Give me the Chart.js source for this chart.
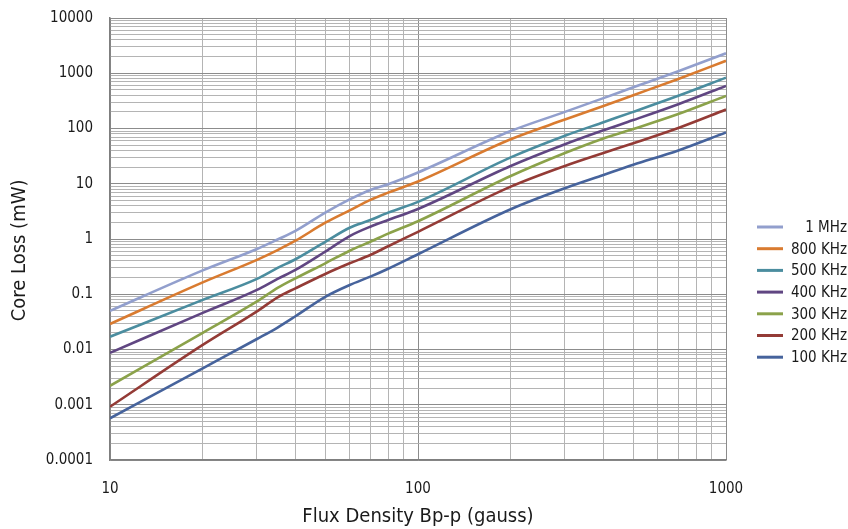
<!DOCTYPE html>
<html>
<head>
<meta charset="utf-8">
<script src="https://cdn.jsdelivr.net/npm/chart.js@4.4.0/dist/chart.umd.min.js"></script>
<style>
  html, body { margin: 0; padding: 0; background: #ffffff; }
  #wrap { width: 848px; height: 529px; }
</style>
</head>
<body>
<div id="wrap"><canvas id="coreLossChart" width="848" height="529"></canvas></div>
<script>
// flux density (gauss) where the curves were read
const fluxDensity = [10, 20, 30, 35, 40, 50, 60, 70, 80, 100, 200, 300, 400, 500, 700, 1000];

// core loss (mW) per frequency
const loss1MHz   = [0.05, 0.27, 0.66, 0.98, 1.4, 3.0, 5.2, 7.7, 9.8, 16, 90, 200, 355, 557, 1090, 2300];
const loss800KHz = [0.029, 0.164, 0.42, 0.63, 0.93, 1.97, 3.3, 5.1, 6.9, 11, 64, 145, 255, 400, 790, 1680];
const loss500KHz = [0.017, 0.079, 0.19, 0.30, 0.43, 0.89, 1.6, 2.2, 3.0, 4.7, 30, 74, 130, 200, 390, 830];
const loss400KHz = [0.0087, 0.046, 0.12, 0.19, 0.275, 0.59, 1.13, 1.67, 2.2, 3.5, 21, 52, 93, 142, 275, 590];
const loss300KHz = [0.0022, 0.020, 0.074, 0.13, 0.194, 0.363, 0.614, 0.89, 1.25, 2.1, 13.8, 36, 66, 98, 183, 390];
const loss200KHz = [0.00092, 0.0121, 0.049, 0.088, 0.128, 0.233, 0.363, 0.513, 0.74, 1.35, 8.85, 21, 36, 54, 102, 220];
const loss100KHz = [0.00057, 0.00456, 0.0155, 0.025, 0.040, 0.090, 0.147, 0.208, 0.29, 0.53, 3.45, 8.3, 14.4, 22, 40, 85];

const seriesLabels = ["1 MHz", "800 KHz", "500 KHz", "400 KHz", "300 KHz", "200 KHz", "100 KHz"];
const seriesValues = [loss1MHz, loss800KHz, loss500KHz, loss400KHz, loss300KHz, loss200KHz, loss100KHz];
const seriesColors = ["#929fcd", "#d97b30", "#4b8d9f", "#604682", "#8ba24a", "#943b36", "#46639c"];

const xTickLabels = ["10", "100", "1000"];
const yTickLabels = ["0.0001", "0.001", "0.01", "0.1", "1", "10", "100", "1000", "10000"];

const FONT = "'DejaVu Sans Condensed', 'Liberation Sans', sans-serif";

// 1..9 x 10^n ticks between two label values
const buildLogTicks = (labels) => {
    const lo = Math.round(Math.log10(parseFloat(labels[0])));
    const hi = Math.round(Math.log10(parseFloat(labels[labels.length - 1])));
    let ticks = [];
    for (let e = lo; e <= hi; e++) {
        const lim = (e === hi) ? 1 : 9;
        for (let m = 1; m <= lim; m++) {
            ticks.push({ value: parseFloat((m * Math.pow(10, e)).toPrecision(6)) });
        }
    }
    return ticks;
};

const tickText = (labels) => (value) => {
    const found = labels.find(l => Math.abs(parseFloat(l) - value) < value * 1e-6);
    return found === undefined ? "" : found;
};

const isMajor = (value) => {
    const lg = Math.log10(value);
    return Math.abs(lg - Math.round(lg)) < 1e-6;
};

const datasets = seriesLabels.map((label, i) => ({
    label: label,
    data: fluxDensity.map((x, j) => ({ x: x, y: seriesValues[i][j] })),
    borderColor: seriesColors[i],
    backgroundColor: seriesColors[i],
    borderWidth: 2.6,
    pointRadius: 0,
    cubicInterpolationMode: "monotone",
    fill: false
}));

// legend drawn on the right, text right aligned like the original
const sideLegend = {
    id: "sideLegend",
    afterDraw(chart) {
        const ctx = chart.ctx;
        ctx.save();
        ctx.font = "15px " + FONT;
        ctx.textBaseline = "middle";
        ctx.textAlign = "right";
        chart.data.datasets.forEach((ds, i) => {
            const y = 227 + i * 21.7;
            ctx.strokeStyle = ds.borderColor;
            ctx.lineWidth = 3;
            ctx.beginPath();
            ctx.moveTo(757, y);
            ctx.lineTo(783, y);
            ctx.stroke();
            ctx.fillStyle = "#1a1a1a";
            ctx.fillText(ds.label, 847, y + 1);
        });
        ctx.restore();
    }
};

const config = {
    type: "line",
    data: { datasets: datasets },
    options: {
        responsive: false,
        animation: false,
        layout: { padding: { left: 8, right: 122, top: 18, bottom: 0 } },
        plugins: {
            legend: { display: false },
            tooltip: { enabled: false }
        },
        scales: {
            x: {
                type: "logarithmic",
                min: 10,
                max: 1000,
                afterBuildTicks: (scale) => { scale.ticks = buildLogTicks(xTickLabels); },
                afterFit: (scale) => {
                    scale.height = 69;
                    scale.paddingLeft = 0;
                    scale.paddingRight = 0;
                },
                ticks: {
                    autoSkip: false,
                    maxRotation: 0,
                    padding: 20,
                    color: "#1a1a1a",
                    font: { family: FONT, size: 15 },
                    callback: tickText(xTickLabels)
                },
                grid: {
                    drawTicks: false,
                    color: (c) => isMajor(c.tick.value) ? "#8c8c8c" : "#b4b4b4",
                    lineWidth: 1
                },
                border: { color: "#7f7f7f", width: 1.5 },
                title: {
                    display: true,
                    text: "Flux Density Bp-p (gauss)",
                    color: "#1a1a1a",
                    font: { family: FONT, size: 20 },
                    padding: { top: 0, bottom: 0 }
                }
            },
            y: {
                type: "logarithmic",
                min: 0.0001,
                max: 10000,
                afterBuildTicks: (scale) => { scale.ticks = buildLogTicks(yTickLabels); },
                afterFit: (scale) => {
                    scale.width = 102;
                    scale.paddingTop = 0;
                    scale.paddingBottom = 0;
                },
                ticks: {
                    autoSkip: false,
                    padding: 17,
                    color: "#1a1a1a",
                    font: { family: FONT, size: 15 },
                    callback: tickText(yTickLabels)
                },
                grid: {
                    drawTicks: false,
                    color: (c) => isMajor(c.tick.value) ? "#8c8c8c" : "#b4b4b4",
                    lineWidth: 1
                },
                border: { color: "#7f7f7f", width: 1.5 },
                title: {
                    display: true,
                    text: "Core Loss (mW)    ",
                    color: "#1a1a1a",
                    font: { family: FONT, size: 20 },
                    padding: { top: 0, bottom: 0 }
                }
            }
        }
    },
    plugins: [sideLegend]
};

const chart = new Chart(document.getElementById("coreLossChart"), config);
</script>
</body>
</html>
